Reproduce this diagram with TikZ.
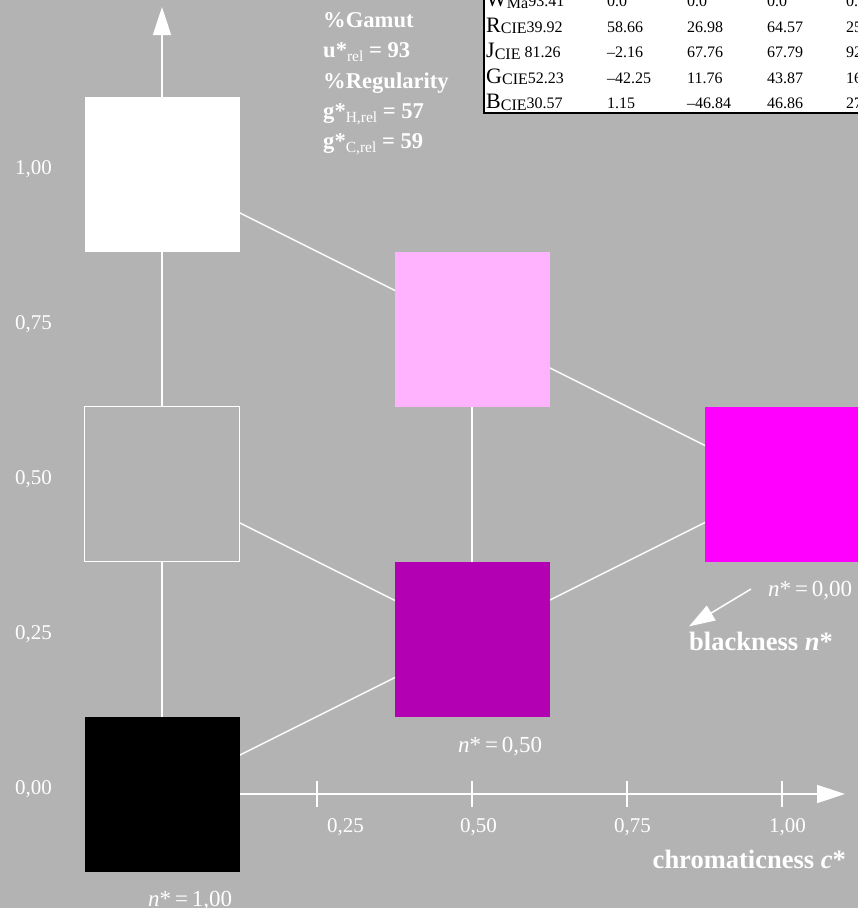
\documentclass[tikz,border=0pt]{standalone}
\usepackage{fontspec}
\setmainfont{Liberation Serif}
\usetikzlibrary{arrows.meta,backgrounds}
\definecolor{bgc}{RGB}{179,179,179}
\definecolor{pinkc}{RGB}{255,179,255}
\definecolor{dmagc}{RGB}{179,0,179}
\definecolor{magc}{RGB}{255,0,255}
\newcommand{\gsub}[1]{\raisebox{-4pt}{\fontsize{15.5}{15.5}\selectfont\mdseries #1}}
\newcommand{\tsub}[1]{\raisebox{-1.5pt}{\fontsize{16}{16}\selectfont #1}}
\begin{document}
\begin{tikzpicture}[x=1pt,y=-1pt,
  sq/.style={minimum size=155pt,inner sep=0pt,outer sep=0pt},
  conn/.style={white,line width=1.5pt},
  axisline/.style={white,line width=1.6pt,-{Triangle[length=28pt,width=18pt]}},
  lab/.style={text=white,inner sep=0pt,anchor=base west,font=\fontsize{21}{21}\selectfont},
  nlab/.style={text=white,inner sep=0pt,anchor=base west,font=\fontsize{23}{23}\selectfont},
  blab/.style={text=white,inner sep=0pt,anchor=base west,font=\fontsize{22.6}{22.6}\selectfont\bfseries},
  biglab/.style={text=white,inner sep=0pt,font=\fontsize{26.5}{26.5}\selectfont\bfseries},
  tlab/.style={inner sep=0pt,anchor=base west,font=\fontsize{22}{22}\selectfont},
  tnum/.style={inner sep=0pt,anchor=base west,font=\fontsize{16}{16}\selectfont},
]
\useasboundingbox (0,0) rectangle (858,908);
\clip (0,0) rectangle (858,908);

% squares
\node[sq,fill=white] (W) at (162,174) {};
\node[sq,fill=bgc,draw=white,line width=1.5pt] (G) at (162,484) {};
\node[sq,fill=black] (K) at (162,794) {};
\node[sq,fill=pinkc] (P) at (472,329) {};
\node[sq,fill=dmagc] (D) at (472,639) {};
\node[sq,fill=magc] (M) at (782,484) {};

\coordinate (ytip) at (162,7);
\coordinate (xtip) at (845,794);

\begin{pgfonlayer}{background}
  \fill[bgc] (0,0) rectangle (858,908);
  \draw[axisline] (K.center) -- (ytip);
  \draw[axisline] (K.center) -- (xtip);
  \draw[conn] (W.center) -- (P.center);
  \draw[conn] (P.center) -- (M.center);
  \draw[conn] (G.center) -- (D.center);
  \draw[conn] (K.center) -- (D.center);
  \draw[conn] (D.center) -- (M.center);
  \draw[conn] (P.center) -- (D.center);
\end{pgfonlayer}

% ticks
\foreach \x in {317,472,627,782} \draw[conn] (\x,781) -- (\x,807);

% y labels
\node[lab] (y100) at (15,174) {1,00};
\node[lab] (y075) at (15,329) {0,75};
\node[lab] (y050) at (15,484) {0,50};
\node[lab] (y025) at (15,639) {0,25};
\node[lab] (y000) at (15,794) {0,00};
% x labels
\node[lab] (x025) at (327,832) {0,25};
\node[lab] (x050) at (460,832) {0,50};
\node[lab] (x075) at (614,832) {0,75};
\node[lab] (x100) at (769,832) {1,00};

\node[biglab,anchor=base east] (cl) at (846,868) {chromaticness \textit{c}*};

% n labels
\node[nlab] (n0) at (768,596) {\textit{n}*\,=\,0,00};
\node[nlab] (n5) at (458,752) {\textit{n}*\,=\,0,50};
\node[nlab] (n1) at (148,906) {\textit{n}*\,=\,1,00};
\node[biglab,anchor=base west] (bl) at (689,650) {blackness \textit{n}*};
\draw[white,line width=1.5pt,-{Triangle[length=26pt,width=17pt]}] ([xshift=-17pt,yshift=7pt]n0.base west) -- ([yshift=5pt]bl.north west);

% gamut text
\node[blab] (gam) at (323,27) {\%Gamut};
\node[blab] (urel) at (323,57) {u*\gsub{rel} = 93};
\node[blab] (reg) at (323,88) {\%Regularity};
\node[blab] (gh) at (323,118) {g*\gsub{H,rel} = 57};
\node[blab] (gc) at (323,148) {g*\gsub{C,rel} = 59};

% table
\draw[fill=white,draw=black,line width=1.5pt] (484,-20) rectangle (890,113);
\node[tlab] (rW) at (486,6.5) {W\tsub{Ma}\fontsize{16}{16}\selectfont 93.41};
\node[tlab] (rR) at (486,32) {R\tsub{CIE}\fontsize{16}{16}\selectfont 39.92};
\node[tlab] (rJ) at (486,57.5) {J\tsub{CIE}\fontsize{16}{16}\selectfont\ 81.26};
\node[tlab] (rG) at (486,83) {G\tsub{CIE}\fontsize{16}{16}\selectfont 52.23};
\node[tlab] (rB) at (486,108.5) {B\tsub{CIE}\fontsize{16}{16}\selectfont 30.57};
\foreach \y/\a/\b/\c/\d in {6.5/0.0/0.0/0.0/0.0, 32/58.66/26.98/64.57/25, 57.5/--2.16/67.76/67.79/92, 83/--42.25/11.76/43.87/164, 108.5/1.15/--46.84/46.86/271} {
  \node[tnum] at (607,\y) {\a};
  \node[tnum] at (687,\y) {\b};
  \node[tnum] at (767,\y) {\c};
  \node[tnum] at (846,\y) {\d};
}
\end{tikzpicture}
\end{document}
